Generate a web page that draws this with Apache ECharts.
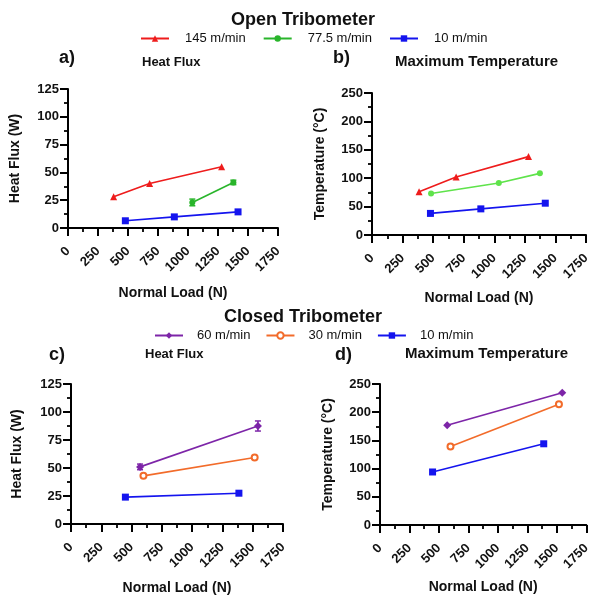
<!DOCTYPE html>
<html>
<head>
<meta charset="utf-8">
<script src="https://cdn.jsdelivr.net/npm/echarts@6/dist/echarts.min.js"></script>
<style>
html,body{margin:0;padding:0;background:#fff;}
#chart{width:593px;height:597px;}
</style>
</head>
<body>
<div id="chart"></div>
<script>
// ---------- DATA ----------
// Open tribometer: Heat flux (a)
const openHF_145_load = [380, 680, 1280];
const openHF_145_val  = [28, 40, 55];
const openHF_775_load = [1036, 1378];
const openHF_775_val  = [23, 41];
const openHF_775_err  = [3, 2];
const openHF_10_load  = [478, 886, 1417];
const openHF_10_val   = [6.5, 10, 14.5];
// Open tribometer: Max temperature (b)
const openT_145_load = [385, 688, 1280];
const openT_145_val  = [76, 102, 138];
const openT_775_load = [483, 1037, 1373];
const openT_775_val  = [73, 91.5, 108.5];
const openT_10_load  = [478, 890, 1417];
const openT_10_val   = [38, 46, 56];
// Closed tribometer: Heat flux (c)
const closedHF_60_load = [570, 1543];
const closedHF_60_val  = [51, 87.5];
const closedHF_60_err  = [2.5, 4.5];
const closedHF_30_load = [598, 1516];
const closedHF_30_val  = [43, 59.3];
const closedHF_10_load = [449, 1386];
const closedHF_10_val  = [24, 27.5];
// Closed tribometer: Max temperature (d)
const closedT_60_load = [570, 1546];
const closedT_60_val  = [177, 234.5];
const closedT_30_load = [598, 1518];
const closedT_30_val  = [139, 214];
const closedT_10_load = [446, 1389];
const closedT_10_val  = [94, 144];

const xTicks = [0, 250, 500, 750, 1000, 1250, 1500, 1750];
const openLegend = ['145 m/min', '77.5 m/min', '10 m/min'];
const closedLegend = ['60 m/min', '30 m/min', '10 m/min'];

// ---------- HELPERS ----------
const FONT = 'Liberation Sans, Arial, sans-serif';
const C_RED = '#ee1c1c', C_GREEN_A = '#29b52b', C_GREEN_B = '#5fe34b', C_BLUE = '#1414ee',
      C_PURPLE = '#7d25a8', C_ORANGE = '#f26b2a';

function zip(a, b) { return a.map((v, i) => [v, b[i]]); }
function zip3(a, b, c) { return a.map((v, i) => [v, b[i], c[i]]); }
const plain = v => String(v);

function xAxisCfg(gi, gap) {
  return {
    type: 'value', gridIndex: gi, min: xTicks[0], max: xTicks[xTicks.length - 1], interval: 250,
    name: 'Normal Load (N)', nameLocation: 'middle', nameGap: gap,
    nameTextStyle: { fontFamily: FONT, fontWeight: 'bold', fontSize: 14, color: '#111' },
    axisLine: { show: true, onZero: false, lineStyle: { color: '#000', width: 2 } },
    axisTick: { show: true, length: 8, lineStyle: { color: '#000', width: 2 } },
    minorTick: { show: true, splitNumber: 2, length: 4, lineStyle: { color: '#000', width: 1.8 } },
    splitLine: { show: false },
    axisLabel: { rotate: 45, margin: 21, formatter: plain, fontFamily: FONT, fontWeight: 'bold', fontSize: 13, color: '#111' }
  };
}
function yAxisCfg(gi, name, max, interval, gap) {
  return {
    type: 'value', gridIndex: gi, min: 0, max: max, interval: interval,
    name: name, nameLocation: 'middle', nameGap: gap,
    nameTextStyle: { fontFamily: FONT, fontWeight: 'bold', fontSize: 14, color: '#111' },
    axisLine: { show: true, onZero: false, lineStyle: { color: '#000', width: 2 } },
    axisTick: { show: true, length: 8, lineStyle: { color: '#000', width: 2 } },
    minorTick: { show: true, splitNumber: 2, length: 4, lineStyle: { color: '#000', width: 1.8 } },
    splitLine: { show: false },
    axisLabel: { margin: 9, formatter: plain, fontFamily: FONT, fontWeight: 'bold', fontSize: 13, color: '#111' }
  };
}
function lineSeries(name, gi, data, color, symbol, size, bw) {
  return {
    type: 'line', name: name, xAxisIndex: gi, yAxisIndex: gi, data: data,
    symbol: symbol, symbolSize: size, showSymbol: true,
    lineStyle: { color: color, width: 1.6 },
    itemStyle: { color: color, borderColor: color, borderWidth: bw || 0 },
    emphasis: { disabled: true }, animation: false, z: 3
  };
}
function errSeries(gi, data, color) {
  return {
    type: 'custom', xAxisIndex: gi, yAxisIndex: gi, data: data, z: 4, animation: false, silent: true,
    encode: { x: 0, y: 1 },
    renderItem: function (params, api) {
      const x = api.value(0), y = api.value(1), e = api.value(2);
      const t = api.coord([x, y + e]), b = api.coord([x, y - e]);
      const w = 3;
      const st = { stroke: color, lineWidth: 1.5 };
      return { type: 'group', children: [
        { type: 'line', shape: { x1: t[0], y1: t[1], x2: b[0], y2: b[1] }, style: st },
        { type: 'line', shape: { x1: t[0] - w, y1: t[1], x2: t[0] + w, y2: t[1] }, style: st },
        { type: 'line', shape: { x1: b[0] - w, y1: b[1], x2: b[0] + w, y2: b[1] }, style: st }
      ] };
    }
  };
}
function txt(text, left, top, size, align) {
  return { text: text, left: left, top: top, padding: 0, textAlign: align || 'left',
    textStyle: { fontFamily: FONT, fontWeight: 'bold', fontSize: size, color: '#111' } };
}

const chart = echarts.init(document.getElementById('chart'), null, { renderer: 'canvas' });
const option = {
  backgroundColor: '#fff',
  animation: false,
  title: [
    txt('Open Tribometer', 303, 11, 18, 'center'),
    txt('a)', 59, 49, 18),
    txt('Heat Flux', 142, 56, 13),
    txt('b)', 333, 49, 18),
    txt('Maximum Temperature', 395, 54, 15),
    txt('Closed Tribometer', 303, 308, 18, 'center'),
    txt('c)', 49, 346, 18),
    txt('Heat Flux', 145, 348, 13),
    txt('d)', 335, 346, 18),
    txt('Maximum Temperature', 405, 346, 15)
  ],
  legend: [
    { data: openLegend, left: 140, top: 32, padding: 0, itemWidth: 28, itemHeight: 8, itemGap: 17,
      selectedMode: false,
      textStyle: { fontFamily: FONT, fontSize: 13, color: '#111', padding: [0, 0, 0, 11] } },
    { data: closedLegend, left: 154, top: 329, padding: 0, itemWidth: 28, itemHeight: 8, itemGap: 15,
      selectedMode: false,
      textStyle: { fontFamily: FONT, fontSize: 13, color: '#111', padding: [0, 0, 0, 9] } }
  ],
  grid: [
    { left: 68, top: 89, width: 210, height: 139 },
    { left: 372, top: 93, width: 214, height: 142 },
    { left: 71, top: 384, width: 212, height: 140 },
    { left: 380, top: 384, width: 212, height: 141 }
  ],
  xAxis: [xAxisCfg(0, 58), xAxisCfg(1, 56), xAxisCfg(2, 57), xAxisCfg(3, 55)],
  yAxis: [
    yAxisCfg(0, 'Heat Flux (W)', 125, 25, 46),
    yAxisCfg(1, 'Temperature (°C)', 250, 50, 45),
    yAxisCfg(2, 'Heat Flux (W)', 125, 25, 47),
    yAxisCfg(3, 'Temperature (°C)', 250, 50, 45)
  ],
  series: [
    // a)
    lineSeries('145 m/min', 0, zip(openHF_145_load, openHF_145_val), C_RED, 'triangle', 7),
    lineSeries('77.5 m/min', 0, zip(openHF_775_load, openHF_775_val), C_GREEN_A, 'circle', 6),
    errSeries(0, zip3(openHF_775_load, openHF_775_val, openHF_775_err), C_GREEN_A),
    lineSeries('10 m/min', 0, zip(openHF_10_load, openHF_10_val), C_BLUE, 'rect', 7),
    // b)
    lineSeries('145 m/min', 1, zip(openT_145_load, openT_145_val), C_RED, 'triangle', 7),
    lineSeries('77.5 m/min', 1, zip(openT_775_load, openT_775_val), C_GREEN_B, 'circle', 6),
    lineSeries('10 m/min', 1, zip(openT_10_load, openT_10_val), C_BLUE, 'rect', 7),
    // c)
    lineSeries('60 m/min', 2, zip(closedHF_60_load, closedHF_60_val), C_PURPLE, 'diamond', 8),
    errSeries(2, zip3(closedHF_60_load, closedHF_60_val, closedHF_60_err), C_PURPLE),
    lineSeries('30 m/min', 2, zip(closedHF_30_load, closedHF_30_val), C_ORANGE, 'emptyCircle', 6, 2),
    lineSeries('10 m/min', 2, zip(closedHF_10_load, closedHF_10_val), C_BLUE, 'rect', 7),
    // d)
    lineSeries('60 m/min', 3, zip(closedT_60_load, closedT_60_val), C_PURPLE, 'diamond', 8),
    lineSeries('30 m/min', 3, zip(closedT_30_load, closedT_30_val), C_ORANGE, 'emptyCircle', 6, 2),
    lineSeries('10 m/min', 3, zip(closedT_10_load, closedT_10_val), C_BLUE, 'rect', 7)
  ]
};
chart.setOption(option);
</script>
</body>
</html>
